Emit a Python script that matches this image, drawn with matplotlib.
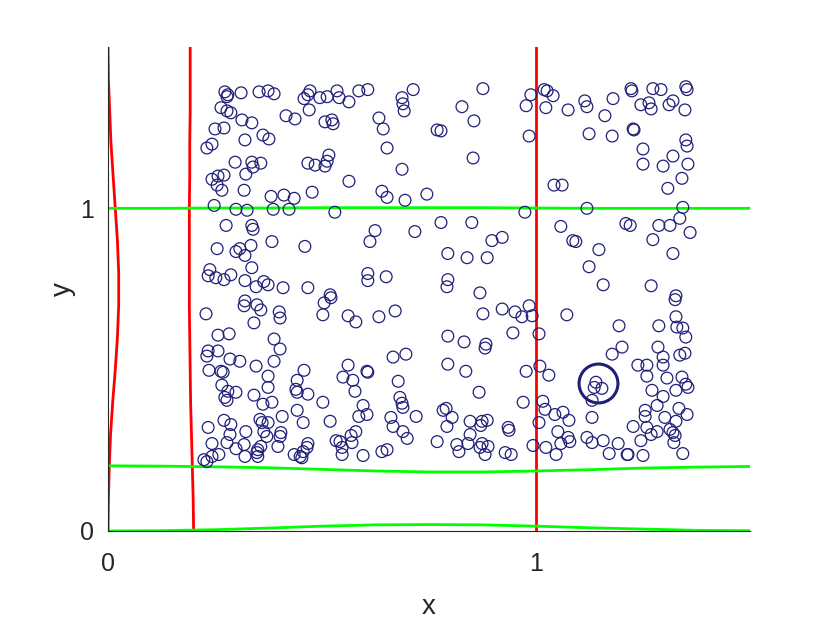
import matplotlib
matplotlib.use("Agg")
import matplotlib.pyplot as plt
import numpy as np

plt.rcParams['font.family'] = ['Liberation Sans', 'DejaVu Sans']

# scatter points (x, y)
pts = [
(0.273,1.361),(0.280,1.352),(0.278,1.346),(0.311,1.358),(0.353,1.361),(0.374,1.364),(0.388,1.355),
(0.472,1.364),(0.467,1.352),(0.458,1.340),(0.495,1.343),(0.264,1.312),(0.278,1.302),(0.287,1.296),
(0.470,1.305),(0.416,1.287),(0.437,1.277),(0.313,1.274),(0.336,1.265),(0.271,1.249),(0.250,1.246),
(0.362,1.227),(0.376,1.215),(0.320,1.212),(0.243,1.199),(0.231,1.187),(0.297,1.143),(0.336,1.143),
(0.357,1.140),(0.339,1.128),(0.467,1.140),(0.484,1.134),(0.271,1.103),(0.257,1.100),(0.243,1.090),
(0.322,1.106),(0.255,1.072),(0.266,1.056),(0.318,1.056),(0.381,1.037),(0.411,1.041),(0.435,1.031),
(0.477,1.050),(0.248,1.009),(0.299,0.997),(0.325,0.994),(0.386,0.997),(0.423,0.997),
(0.512,1.346),(0.535,1.364),(0.540,1.343),(0.563,1.330),(0.586,1.364),(0.607,1.368),(0.713,1.368),
(0.687,1.343),(0.689,1.324),(0.692,1.302),(0.507,1.268),(0.523,1.274),(0.526,1.262),(0.633,1.280),
(0.643,1.246),(0.769,1.243),(0.778,1.240),(0.652,1.187),(0.516,1.165),(0.512,1.146),(0.507,1.131),
(0.687,1.121),(0.563,1.084),(0.640,1.053),(0.652,1.034),(0.694,1.025),(0.745,1.044),(0.530,0.988),
(0.876,1.371),(0.827,1.315),(0.855,1.271),(0.853,1.156),(0.988,1.352),(0.977,1.318),(1.019,1.368),
(1.026,1.364),(1.040,1.349),(1.023,1.312),(1.075,1.305),(0.984,1.224),(1.042,1.072),(1.061,1.072),
(0.974,0.988),
(1.114,1.333),(1.119,1.315),(1.180,1.340),(1.161,1.287),(1.222,1.371),(1.224,1.364),(1.273,1.371),
(1.292,1.368),(1.350,1.377),(1.353,1.368),(1.245,1.321),(1.264,1.327),(1.269,1.308),(1.311,1.321),
(1.320,1.333),(1.348,1.305),(1.124,1.231),(1.178,1.224),(1.227,1.246),(1.229,1.243),(1.350,1.212),
(1.353,1.193),(1.250,1.184),(1.250,1.137),(1.320,1.162),(1.297,1.131),(1.355,1.137),(1.341,1.093),
(1.308,1.062),(1.119,1.000),(1.343,1.003),
(0.276,0.947),(0.336,0.947),(0.339,0.935),(0.255,0.875),(0.299,0.866),(0.308,0.875),(0.334,0.885),
(0.320,0.854),(0.383,0.897),(0.460,0.882),(0.336,0.816),(0.238,0.810),(0.234,0.791),(0.252,0.785),
(0.271,0.779),(0.287,0.794),(0.320,0.776),(0.364,0.773),(0.374,0.763),(0.346,0.757),(0.409,0.754),
(0.467,0.754),(0.505,0.707),(0.320,0.713),(0.318,0.698),(0.348,0.701),(0.357,0.685),(0.229,0.673),
(0.400,0.679),(0.402,0.660),(0.502,0.670),(0.341,0.645),(0.257,0.607),(0.283,0.611),(0.388,0.595),
(0.624,0.931),(0.612,0.897),(0.717,0.928),(0.778,0.956),(0.794,0.860),(0.607,0.798),(0.607,0.776),
(0.650,0.788),(0.794,0.779),(0.792,0.757),(0.519,0.732),(0.521,0.723),(0.561,0.667),(0.579,0.648),
(0.633,0.664),(0.671,0.682),(0.794,0.604),
(0.850,0.956),(0.897,0.900),(0.921,0.910),(0.839,0.847),(0.886,0.847),(0.869,0.738),(1.058,0.944),
(1.086,0.900),(1.093,0.897),(0.876,0.673),(0.921,0.688),(0.951,0.679),(0.967,0.664),(0.984,0.698),
(0.991,0.667),(1.072,0.670),(0.832,0.586),(0.946,0.614),(1.007,0.611),(0.883,0.579),
(1.210,0.953),(1.220,0.947),(1.287,0.947),(1.313,0.947),(1.336,0.969),(1.360,0.925),(1.273,0.903),
(1.147,0.872),(1.320,0.860),(1.124,0.819),(1.157,0.763),(1.269,0.760),(1.327,0.729),(1.325,0.717),
(1.194,0.636),(1.287,0.636),(1.327,0.664),(1.329,0.632),(1.343,0.629),(1.350,0.601),
(0.234,0.558),(0.231,0.542),(0.257,0.558),(0.402,0.564),(0.285,0.533),(0.308,0.526),(0.388,0.526),
(0.236,0.498),(0.264,0.495),(0.269,0.492),(0.346,0.511),(0.374,0.480),(0.458,0.498),(0.442,0.467),
(0.266,0.452),(0.280,0.433),(0.299,0.430),(0.273,0.414),(0.278,0.405),(0.341,0.421),(0.362,0.393),
(0.383,0.399),(0.374,0.445),(0.439,0.439),(0.442,0.430),(0.467,0.424),(0.502,0.399),(0.442,0.374),
(0.407,0.355),(0.456,0.336),(0.271,0.343),(0.287,0.330),(0.234,0.321),(0.355,0.346),(0.360,0.336),
(0.374,0.336),(0.322,0.308),(0.364,0.308),(0.285,0.299),(0.371,0.293),(0.404,0.305),(0.402,0.293),
(0.243,0.271),(0.278,0.274),(0.318,0.268),(0.299,0.255),(0.357,0.262),(0.350,0.252),(0.348,0.243),
(0.397,0.262),(0.259,0.237),(0.243,0.231),(0.320,0.231),(0.350,0.231),(0.435,0.237),(0.467,0.271),
(0.465,0.259),(0.456,0.246),(0.449,0.231),(0.453,0.227),(0.224,0.221),(0.231,0.215),(0.519,0.340),
(0.666,0.539),(0.696,0.548),(0.561,0.514),(0.549,0.477),(0.572,0.467),(0.605,0.495),(0.607,0.492),
(0.678,0.464),(0.577,0.433),(0.682,0.414),(0.687,0.396),(0.689,0.383),(0.596,0.389),(0.586,0.355),
(0.605,0.361),(0.720,0.355),(0.661,0.352),(0.666,0.324),(0.689,0.308),(0.790,0.380),(0.783,0.374),
(0.792,0.324),(0.579,0.308),(0.568,0.296),(0.533,0.280),(0.542,0.277),(0.570,0.274),(0.699,0.287),
(0.769,0.277),(0.547,0.259),(0.547,0.237),(0.596,0.234),(0.640,0.246),(0.652,0.252),(0.794,0.517),
(0.881,0.567),(0.836,0.495),(0.977,0.495),(1.009,0.511),(1.030,0.483),(0.867,0.430),(0.970,0.399),
(1.016,0.402),(1.021,0.377),(0.804,0.352),(0.846,0.340),(0.874,0.340),(0.886,0.343),(0.871,0.327),
(0.935,0.321),(0.937,0.312),(0.846,0.299),(1.007,0.336),(1.044,0.361),(1.063,0.368),(1.077,0.343),
(1.051,0.308),(1.075,0.290),(1.079,0.277),(0.815,0.268),(0.841,0.271),(0.820,0.246),(0.874,0.271),
(0.869,0.259),(0.888,0.262),(0.881,0.237),(0.928,0.243),(0.942,0.237),(0.993,0.265),(1.023,0.259),
(1.058,0.271),(1.047,0.237),
(1.201,0.570),(1.178,0.548),(1.285,0.570),(1.297,0.539),(1.336,0.545),(1.348,0.551),(1.140,0.461),
(1.154,0.442),(1.136,0.445),(1.131,0.405),(1.238,0.514),(1.259,0.514),(1.259,0.480),(1.297,0.514),
(1.306,0.474),(1.341,0.477),(1.350,0.455),(1.355,0.445),(1.327,0.436),(1.271,0.436),(1.297,0.417),
(1.283,0.389),(1.255,0.374),(1.255,0.355),(1.334,0.380),(1.353,0.361),(1.301,0.352),(1.327,0.340),
(1.131,0.352),(1.227,0.324),(1.259,0.321),(1.283,0.308),(1.269,0.299),(1.313,0.315),(1.320,0.305),
(1.325,0.296),(1.119,0.290),(1.131,0.274),(1.157,0.280),(1.192,0.271),(1.245,0.280),(1.322,0.274),
(1.171,0.240),(1.213,0.237),(1.215,0.237),(1.250,0.234),(1.343,0.240),
]
px = [p[0] for p in pts]
py = [p[1] for p in pts]

# highlighted point
hx, hy = 1.145, 0.458

# red vertical curves: (y samples, x values)
red_y = [0.0, 0.1, 0.2, 0.3, 0.4, 0.5, 0.6, 0.7, 0.8, 0.9, 1.0, 1.1, 1.2, 1.3, 1.4, 1.5]
red0_x = [0.0, 0.001, 0.003, 0.006, 0.011, 0.017, 0.022, 0.025, 0.025, 0.022, 0.017, 0.012, 0.007, 0.004, 0.001, 0.0]
red1_x = [0.200, 0.199, 0.197, 0.195, 0.193, 0.192, 0.191, 0.190, 0.190, 0.190, 0.190, 0.191, 0.191, 0.192, 0.192, 0.192]
red2_x = [1.0, 1.0, 1.0, 1.0, 1.0, 1.0, 1.0, 1.0, 1.0, 1.0, 1.0, 1.0, 1.0, 1.0, 1.0, 1.0]

# green horizontal curves: (x samples, y values)
grn_x = [0.0, 0.125, 0.25, 0.375, 0.5, 0.625, 0.75, 0.875, 1.0, 1.125, 1.25, 1.375, 1.5]
grn0_y = [0.0, 0.001, 0.004, 0.009, 0.015, 0.019, 0.020, 0.019, 0.015, 0.010, 0.006, 0.002, 0.001]
grn1_y = [0.202, 0.201, 0.199, 0.196, 0.191, 0.186, 0.183, 0.183, 0.186, 0.190, 0.195, 0.198, 0.200]
grn2_y = [1.0, 1.0, 1.001, 1.001, 1.002, 1.002, 1.002, 1.002, 1.001, 1.0, 1.0, 1.0, 1.0]

fig = plt.figure(figsize=(8.3, 6.23), dpi=100)
ax = fig.add_axes([108/830, 92/623, 642/830, 484/623])

navy = '#1f1f78'
ax.scatter(px, py, s=72, facecolors='none', edgecolors=navy, linewidths=0.9, zorder=3)
ax.plot([hx], [hy], 'o', ms=28, mfc='none', mec=navy, mew=2.2, zorder=4)

for xs in (red0_x, red1_x, red2_x):
    ax.plot(xs, red_y, color='#ff0000', lw=2.0, zorder=2)
for ys in (grn0_y, grn1_y, grn2_y):
    ax.plot(grn_x, ys, color='#00ff00', lw=2.0, zorder=2)

ax.set_xlim(0, 1.5)
ax.set_ylim(0, 1.5)
ax.set_xticks([0, 1])
ax.set_yticks([0, 1])
ax.tick_params(direction='in', length=4, labelsize=18, colors='#262626')
ax.tick_params(axis='x', pad=15)
ax.tick_params(axis='y', pad=10)
for s in ('top', 'right'):
    ax.spines[s].set_visible(False)
for s in ('left', 'bottom'):
    ax.spines[s].set_color('#262626')
    ax.spines[s].set_linewidth(0.8)
ax.set_xlabel('x', fontsize=20, color='#262626', labelpad=13)
ax.set_ylabel('y', fontsize=20, color='#262626', labelpad=3)

fig.savefig('out.png', dpi=100)
